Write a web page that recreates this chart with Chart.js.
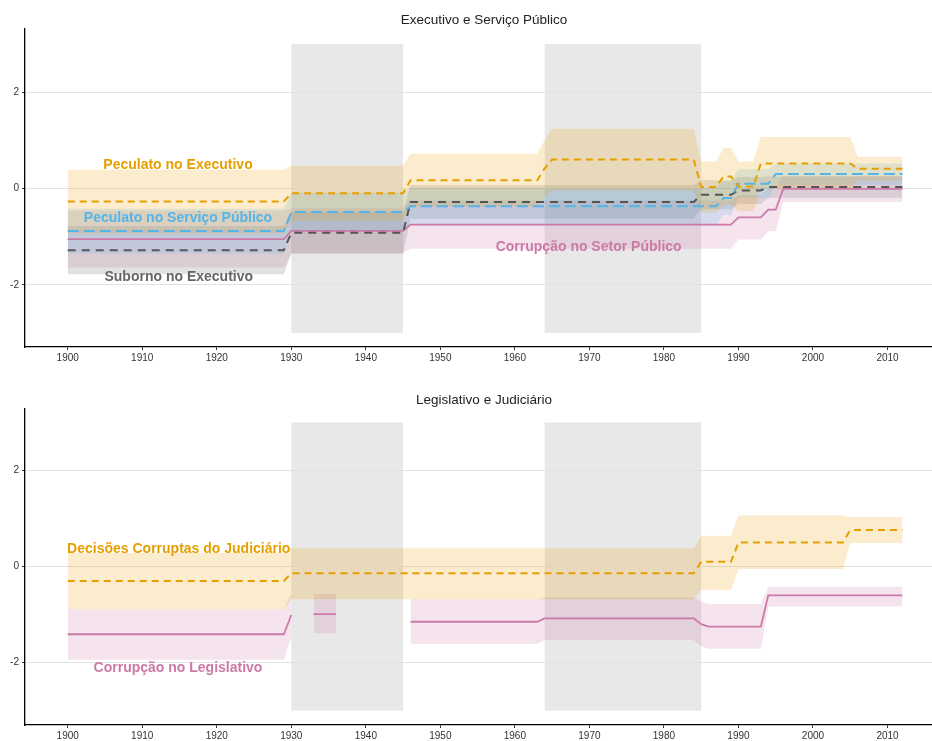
<!DOCTYPE html>
<html><head><meta charset="utf-8">
<script src="https://cdn.jsdelivr.net/npm/chart.js@4.4.1/dist/chart.umd.min.js"></script>
<style>
html,body{margin:0;padding:0;background:#fff;width:932px;height:741px;overflow:hidden}
canvas{position:absolute;left:0}
#c1{top:0}
#c2{top:380px}
</style></head><body>
<canvas id="c1" width="932" height="372"></canvas>
<canvas id="c2" width="932" height="361"></canvas>
<script>
// ---------- data ----------
const xTickLabels = [1900,1910,1920,1930,1940,1950,1960,1970,1980,1990,2000,2010];
const yTickLabels = [-2,0,2];
const shadedPeriods = [[1930,1945],[1964,1985]];

const topTitle = "Executivo e Serviço Público";
const bottomTitle = "Legislativo e Judiciário";

const topYears = [1900,1929,1930,1945,1946,1963,1964,1965,1984,1985,1986,1987,1988,1989,1990,1992,1993,1994,1995,1996,2005,2006,2012];

const pecExecMean = [-0.27,-0.27,-0.10,-0.10,0.17,0.17,0.42,0.60,0.60,0.03,0.03,0.03,0.25,0.25,0.04,0.04,0.52,0.52,0.52,0.52,0.52,0.41,0.41];
const pecExecHigh = [0.39,0.39,0.47,0.47,0.72,0.72,1.00,1.24,1.24,0.56,0.56,0.56,0.84,0.84,0.56,0.56,1.07,1.07,1.07,1.07,1.07,0.66,0.66];
const pecExecLow  = [-0.93,-0.93,-0.67,-0.67,-0.38,-0.38,-0.17,-0.04,-0.04,-0.50,-0.50,-0.50,-0.34,-0.34,-0.47,-0.47,0.00,0.00,0.00,0.00,0.00,0.16,0.16];

const pecServMean = [-0.88,-0.88,-0.49,-0.49,-0.37,-0.37,-0.37,-0.37,-0.37,-0.37,-0.37,-0.37,-0.20,-0.20,0.10,0.10,0.10,0.10,0.30,0.30,0.30,0.30,0.30];
const pecServHigh = [-0.42,-0.42,-0.09,-0.09,0.01,0.01,0.01,0.01,0.01,0.01,0.01,0.01,0.15,0.15,0.40,0.40,0.40,0.40,0.52,0.52,0.52,0.52,0.52];
const pecServLow  = [-1.35,-1.35,-0.89,-0.89,-0.75,-0.75,-0.75,-0.75,-0.75,-0.75,-0.75,-0.75,-0.55,-0.55,-0.20,-0.20,-0.20,-0.20,0.08,0.08,0.08,0.08,0.08];

const subExecMean = [-1.28,-1.28,-0.92,-0.92,-0.28,-0.28,-0.28,-0.28,-0.28,-0.13,-0.13,-0.13,-0.13,-0.13,-0.04,-0.04,-0.04,0.03,0.03,0.03,0.03,0.03,0.03];
const subExecHigh = [-0.78,-0.78,-0.49,-0.49,0.07,0.07,0.07,0.07,0.07,0.17,0.17,0.17,0.17,0.17,0.24,0.24,0.24,0.25,0.25,0.25,0.25,0.25,0.25];
const subExecLow  = [-1.78,-1.78,-1.35,-1.35,-0.63,-0.63,-0.63,-0.63,-0.63,-0.43,-0.43,-0.43,-0.43,-0.43,-0.32,-0.32,-0.32,-0.19,-0.19,-0.19,-0.19,-0.19,-0.19];

const setorMean = [-1.05,-1.05,-0.88,-0.88,-0.75,-0.75,-0.75,-0.75,-0.75,-0.75,-0.75,-0.75,-0.75,-0.75,-0.60,-0.60,-0.60,-0.44,-0.44,-0.01,-0.01,-0.01,-0.01];
const setorHigh = [-0.46,-0.46,-0.41,-0.41,-0.25,-0.25,-0.25,-0.25,-0.25,-0.25,-0.25,-0.25,-0.25,-0.25,-0.14,-0.14,-0.14,0.01,0.01,0.26,0.26,0.26,0.26];
const setorLow  = [-1.64,-1.64,-1.35,-1.35,-1.25,-1.25,-1.25,-1.25,-1.25,-1.25,-1.25,-1.25,-1.25,-1.25,-1.06,-1.06,-1.06,-0.89,-0.89,-0.28,-0.28,-0.28,-0.28];

const bottomYears = [1900,1929,1930,1931,1932,1933,1936,1937,1945,1946,1963,1964,1984,1985,1986,1989,1990,1993,1994,2004,2005,2012];

const judMean = [-0.30,-0.30,-0.14,-0.14,-0.14,-0.14,-0.14,-0.14,-0.14,-0.14,-0.14,-0.14,-0.14,0.10,0.10,0.10,0.50,0.50,0.50,0.50,0.76,0.76];
const judHigh = [0.28,0.28,0.38,0.38,0.38,0.38,0.38,0.38,0.38,0.38,0.38,0.38,0.38,0.64,0.64,0.64,1.06,1.06,1.06,1.06,1.03,1.03];
const judLow  = [-0.89,-0.89,-0.68,-0.68,-0.68,-0.68,-0.68,-0.68,-0.68,-0.68,-0.68,-0.68,-0.68,-0.49,-0.49,-0.49,-0.05,-0.05,-0.05,-0.05,0.49,0.49];

const legMean = [-1.41,-1.41,-1.01,null,null,-0.99,-0.99,null,null,-1.15,-1.15,-1.08,-1.08,-1.20,-1.25,-1.25,-1.25,-1.25,-0.60,-0.60,-0.60,-0.60];
const legHigh = [-0.89,-0.89,-0.55,null,null,-0.57,-0.57,null,null,-0.68,-0.68,-0.64,-0.64,-0.74,-0.78,-0.78,-0.78,-0.78,-0.42,-0.42,-0.42,-0.42];
const legLow  = [-1.94,-1.94,-1.46,null,null,-1.39,-1.39,null,null,-1.61,-1.61,-1.53,-1.53,-1.66,-1.71,-1.71,-1.71,-1.71,-0.83,-0.83,-0.83,-0.83];

const topLabels = [
  {text:"Peculato no Executivo", x:1914.8, y:0.49, color:"#E69F00"},
  {text:"Peculato no Serviço Público", x:1914.8, y:-0.61, color:"#56B4E9"},
  {text:"Suborno no Executivo", x:1914.9, y:-1.83, color:"#666666"},
  {text:"Corrupção no Setor Público", x:1969.9, y:-1.21, color:"#CC79A7"}
];
const bottomLabels = [
  {text:"Decisões Corruptas do Judiciário", x:1914.9, y:0.37, color:"#E69F00"},
  {text:"Corrupção no Legislativo", x:1914.8, y:-2.12, color:"#CC79A7"}
];

// ---------- styles ----------
const ORANGE = "#E69F00", BLUE = "#56B4E9", GREY = "#555555", PINK = "#CC79A7";
const FONT = "'Liberation Sans', Arial, sans-serif";

function pts(years, vals){ return years.map((yr,i)=>({x:yr, y:vals[i]})); }

function seriesDatasets(years, list){
  const ds = [];
  list.forEach(s=>{
    const idx = ds.length;
    ds.push({data:pts(years,s.low), borderWidth:0, pointRadius:0, fill:false, spanGaps:false});
    ds.push({data:pts(years,s.high), borderWidth:0, pointRadius:0, fill:{target:idx}, backgroundColor:s.fill, spanGaps:false});
  });
  list.forEach(s=>{
    ds.push({data:pts(years,s.mean), borderColor:s.color, borderWidth:s.width, borderDash:s.dash, pointRadius:0, fill:false, spanGaps:false, tension:0});
  });
  return ds;
}

const shadePlugin = {
  id:'shade',
  beforeDraw(chart){
    const {ctx, scales:{x,y}} = chart;
    ctx.save();
    ctx.fillStyle = "#E8E8E8";
    shadedPeriods.forEach(([a,b])=>{
      const x0 = x.getPixelForValue(a), x1 = x.getPixelForValue(b);
      const y0 = y.getPixelForValue(3), y1 = y.getPixelForValue(-3);
      ctx.fillRect(x0, y0, x1-x0, y1-y0);
    });
    ctx.restore();
  }
};

const textPlugin = {
  id:'texts',
  afterDatasetsDraw(chart, args, opts){
    const {ctx, scales:{x,y}} = chart;
    ctx.save();
    ctx.font = "bold 14px " + FONT;
    ctx.textAlign = "center"; ctx.textBaseline = "middle";
    opts.labels.forEach(l=>{
      ctx.fillStyle = l.color;
      ctx.fillText(l.text, x.getPixelForValue(l.x), y.getPixelForValue(l.y));
    });
    ctx.font = "13.5px " + FONT;
    ctx.fillStyle = "#222";
    ctx.fillText(opts.title, 484, 20);
    ctx.restore();
  }
};

function makeChart(id, years, list, labels, title, yMin, yMax, xAxisH){
  return new Chart(document.getElementById(id), {
    type:'line',
    data:{datasets: seriesDatasets(years, list)},
    options:{
      responsive:false, animation:false, devicePixelRatio:1,
      layout:{padding:{top:29, left:0, right:0, bottom:0}},
      plugins:{legend:{display:false}, tooltip:{enabled:false}, title:{display:false},
        filler:{drawTime:'beforeDatasetsDraw', propagate:false},
        texts:{labels:labels, title:title}},
      scales:{
        x:{type:'linear', min:1894.27, max:2015.97,
           afterBuildTicks: s=>{ s.ticks = xTickLabels.map(v=>({value:v})); },
           afterFit: s=>{ s.height = xAxisH; },
           grid:{display:true, drawOnChartArea:false, drawTicks:true, tickLength:3, tickColor:"#333"},
           border:{display:true, color:"#000", width:1.3},
           ticks:{font:{size:10, family:FONT}, color:"#333", padding:2, maxRotation:0, autoSkip:false,
             callback: v=>String(v)}},
        y:{type:'linear', min:yMin, max:yMax,
           afterBuildTicks: s=>{ s.ticks = yTickLabels.map(v=>({value:v})); },
           afterFit: s=>{ s.width = 25; },
           grid:{color:"#E2E2E2", lineWidth:1, drawTicks:true, tickLength:3, tickColor:"#333"},
           border:{display:true, color:"#000", width:1.3},
           ticks:{font:{size:10, family:FONT}, color:"#333", padding:3, callback: v=>String(v)}}
      }
    },
    plugins:[shadePlugin, textPlugin]
  });
}

makeChart('c1', topYears, [
  {mean:pecExecMean, low:pecExecLow, high:pecExecHigh, color:ORANGE, fill:"rgba(230,159,0,0.2)", dash:[7,5], width:2},
  {mean:pecServMean, low:pecServLow, high:pecServHigh, color:BLUE, fill:"rgba(86,180,233,0.2)", dash:[11,5], width:2},
  {mean:subExecMean, low:subExecLow, high:subExecHigh, color:GREY, fill:"rgba(110,110,110,0.2)", dash:[8,6], width:2},
  {mean:setorMean, low:setorLow, high:setorHigh, color:PINK, fill:"rgba(204,121,167,0.2)", dash:[], width:1.8}
], topLabels, topTitle, -3.29, 3.31, 25);

makeChart('c2', bottomYears, [
  {mean:judMean, low:judLow, high:judHigh, color:ORANGE, fill:"rgba(230,159,0,0.2)", dash:[7,5], width:2},
  {mean:legMean, low:legLow, high:legHigh, color:PINK, fill:"rgba(204,121,167,0.2)", dash:[], width:1.8}
], bottomLabels, bottomTitle, -3.3, 3.28, 16);
</script>
</body></html>
